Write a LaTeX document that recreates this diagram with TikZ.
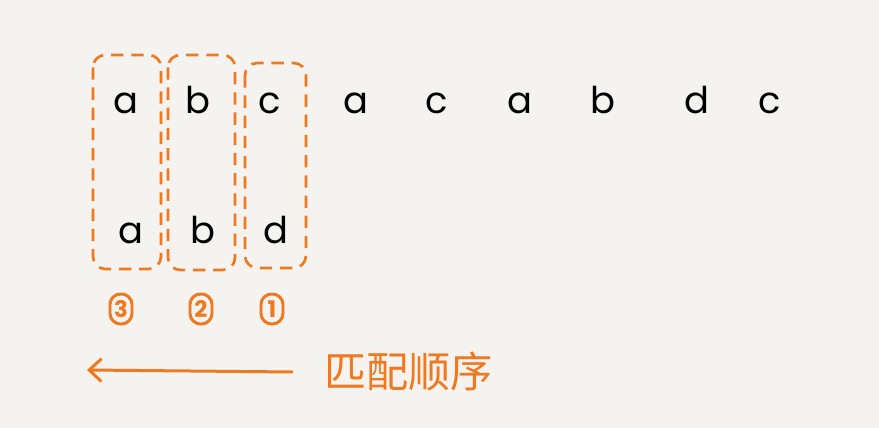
\documentclass[tikz,border=0pt]{standalone}
\usepackage{fontspec}
\setmainfont{Poppins}
\newfontfamily\cjk{Noto Sans CJK SC}
\usetikzlibrary{arrows.meta,positioning}
\definecolor{paper}{RGB}{245,243,239}
\definecolor{pen}{RGB}{240,120,30}

\begin{document}
\begin{tikzpicture}[x=0.02cm,y=-0.02cm,
    letter/.style={anchor=base,inner sep=0pt,font=\fontsize{21}{24}\selectfont,text=black},
    group/.style={draw=pen,line width=1.5pt,dash pattern=on 7pt off 4.5pt,rounded corners=7pt},
    order/.style={draw=pen,text=pen,line width=1.7pt,rounded corners=6pt,minimum width=0.44cm,minimum height=0.6cm,inner sep=0pt,font=\bfseries\fontsize{13}{15}\selectfont}]
                    \fill[paper] (0,0) rectangle (879,428);
                    \useasboundingbox (0,0) rectangle (879,428);
                    % main string
                    \foreach \u \v \n in {126/a/t1,198/b/t2,270/c/t3,356/a/t4,437/c/t5,520/a/t6,603/b/t7,697/d/t8,770/c/t9}
                    \node[letter] (\n) at (\u,114){\v};
                    % pattern string
                    \foreach \u \v \n in {131/a/p1,203/b/p2,276/d/p3}
                    \node[letter] (\n) at (\u,244){\v};
                    \draw[group] (93,55) rectangle (161,269);
                    \draw[group] (168,55) rectangle (235,270);
                    \draw[group] (245,63) rectangle (306,268);
                    \foreach \u \v \n in {121/3/o3,201/2/o2,272/1/o1}
                    \node[order] (\n) at (\u,309){\v};
                    \coordinate (from) at (293,372);
                    \coordinate (to) at (87,370);
                    \draw[pen,line width=1.7pt,-{Straight Barb[length=7pt,width=13pt]}] (from)--(to);
                    \node[anchor=west,text=pen,inner sep=0pt,font=\cjk\fontsize{24}{28}\selectfont] (label) at (324,371){匹配顺序};
                \end{tikzpicture}
\end{document}
